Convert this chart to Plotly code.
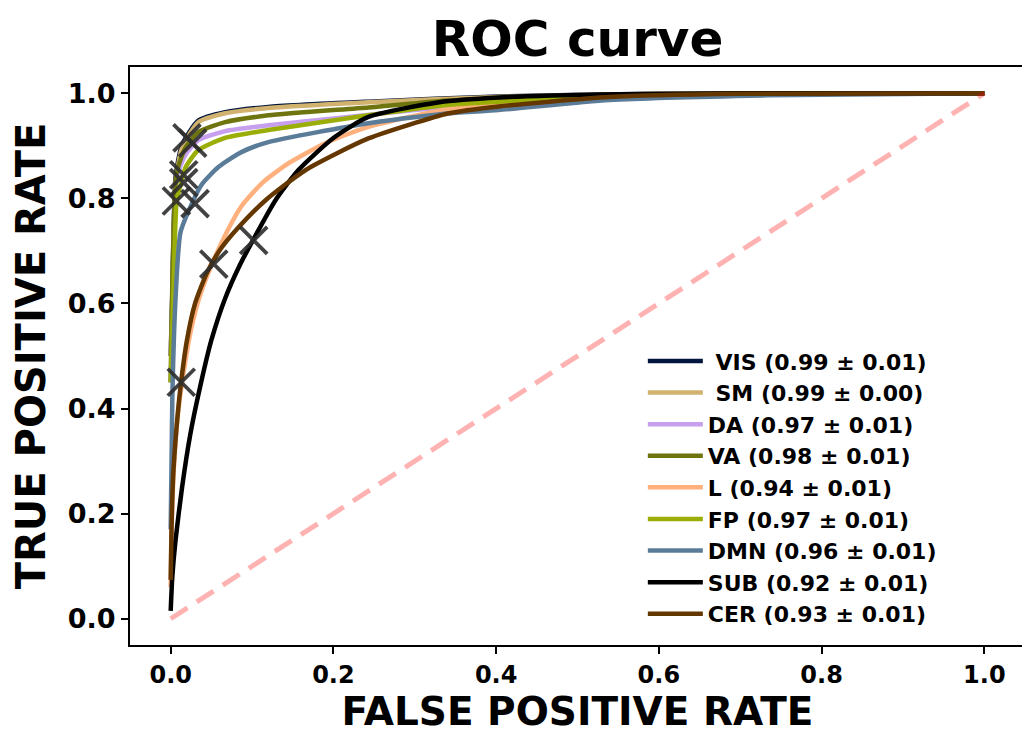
import plotly.graph_objects as go

# ---- data ----
names = ["\u00a0VIS (0.99 \u00b1 0.01)", "\u00a0SM (0.99 \u00b1 0.00)", "DA (0.97 \u00b1 0.01)",
         "VA (0.98 \u00b1 0.01)", "L (0.94 \u00b1 0.01)", "FP (0.97 \u00b1 0.01)",
         "DMN (0.96 \u00b1 0.01)", "SUB (0.92 \u00b1 0.01)", "CER (0.93 \u00b1 0.01)"]
colors = ["#01153e", "#d1b26f", "#c79fef", "#6e750e", "#ffb07c", "#9aae07",
          "#5b7c99", "#000000", "#653700"]

vis_fpr = [0.0, 0.002, 0.006, 0.014, 0.034, 0.067, 0.12, 0.243, 0.403, 0.6, 1.0]
vis_tpr = [0.5, 0.62, 0.84, 0.902, 0.948, 0.964, 0.974, 0.984, 0.994, 0.999, 1.0]
sm_fpr = [0.0, 0.002, 0.006, 0.014, 0.034, 0.067, 0.12, 0.243, 0.403, 0.6, 1.0]
sm_tpr = [0.5, 0.6, 0.83, 0.896, 0.945, 0.962, 0.972, 0.983, 0.993, 0.999, 1.0]
da_fpr = [0.0, 0.003, 0.0075, 0.018, 0.034, 0.067, 0.12, 0.2, 0.3, 0.4, 0.55, 0.7, 1.0]
da_tpr = [0.45, 0.65, 0.839, 0.883, 0.911, 0.928, 0.939, 0.952, 0.968, 0.982, 0.995, 0.999, 1.0]
va_fpr = [0.0, 0.003, 0.0075, 0.018, 0.034, 0.067, 0.12, 0.243, 0.33, 0.45, 0.6, 1.0]
va_tpr = [0.45, 0.7, 0.85, 0.896, 0.926, 0.945, 0.958, 0.973, 0.985, 0.992, 0.998, 1.0]
l_fpr = [0.0, 0.001, 0.004, 0.009, 0.016, 0.025, 0.036, 0.05, 0.067, 0.087, 0.113, 0.145, 0.19, 0.243, 0.342, 0.403, 0.55, 0.7, 1.0]
l_tpr = [0.06, 0.16, 0.29, 0.39, 0.47, 0.55, 0.615, 0.672, 0.73, 0.785, 0.83, 0.867, 0.905, 0.936, 0.97, 0.978, 0.993, 0.999, 1.0]
fp_fpr = [0.0, 0.003, 0.0075, 0.012, 0.018, 0.034, 0.067, 0.12, 0.243, 0.342, 0.403, 0.55, 0.7, 1.0]
fp_tpr = [0.45, 0.61, 0.797, 0.825, 0.858, 0.892, 0.915, 0.930, 0.958, 0.978, 0.984, 0.995, 0.999, 1.0]
dmn_fpr = [0.0, 0.002, 0.006, 0.012, 0.026, 0.038, 0.059, 0.087, 0.12, 0.243, 0.342, 0.403, 0.539, 0.735, 1.0]
dmn_tpr = [0.17, 0.42, 0.61, 0.735, 0.79, 0.826, 0.86, 0.888, 0.907, 0.943, 0.962, 0.968, 0.987, 0.996, 1.0]
sub_fpr = [0.0, 0.002, 0.006, 0.014, 0.024, 0.036, 0.05, 0.067, 0.084, 0.101, 0.129, 0.157, 0.2, 0.243, 0.33, 0.403, 0.55, 0.7, 1.0]
sub_tpr = [0.015, 0.08, 0.15, 0.25, 0.35, 0.44, 0.53, 0.61, 0.67, 0.72, 0.797, 0.854, 0.915, 0.955, 0.983, 0.992, 0.998, 1.0, 1.0]
cer_fpr = [0.0, 0.001, 0.003, 0.007, 0.012, 0.02, 0.03, 0.045, 0.062, 0.084, 0.117, 0.166, 0.243, 0.342, 0.403, 0.539, 0.7, 1.0]
cer_tpr = [0.074, 0.17, 0.27, 0.36, 0.44, 0.53, 0.6, 0.66, 0.705, 0.746, 0.797, 0.854, 0.914, 0.962, 0.975, 0.993, 0.999, 1.0]

fprs = [vis_fpr, sm_fpr, da_fpr, va_fpr, l_fpr, fp_fpr, dmn_fpr, sub_fpr, cer_fpr]
tprs = [vis_tpr, sm_tpr, da_tpr, va_tpr, l_tpr, fp_tpr, dmn_tpr, sub_tpr, cer_tpr]

# operating points (X markers)
op_fpr = [0.020, 0.027, 0.016, 0.016, 0.053, 0.007, 0.030, 0.102, 0.013]
op_tpr = [0.915, 0.905, 0.83, 0.845, 0.675, 0.795, 0.79, 0.72, 0.45]

chance = [0.0, 1.0]
x_ticks = [0.0, 0.2, 0.4, 0.6, 0.8, 1.0]
y_ticks = [0.0, 0.2, 0.4, 0.6, 0.8, 1.0]

FONT = "DejaVu Sans"

fig = go.Figure()
for n, c, fx, ty in zip(names, colors, fprs, tprs):
    fig.add_trace(go.Scatter(x=fx, y=ty, mode="lines", name=n,
                             line=dict(color=c, width=4.5, shape="spline", smoothing=0.6)))

fig.add_trace(go.Scatter(x=chance, y=chance, mode="lines", showlegend=False,
                         line=dict(color="rgba(255,0,0,0.3)", width=5, dash="20px,11px")))

fig.add_trace(go.Scatter(x=op_fpr, y=op_tpr, mode="markers", showlegend=False,
                         marker=dict(symbol="x-thin", size=27,
                                     line=dict(width=3.8, color="rgba(45,45,45,0.9)"))))

axis_common = dict(range=[-0.05, 1.05], showgrid=False, zeroline=False,
                   showline=True, linecolor="black", linewidth=2, mirror=True,
                   ticks="outside", ticklen=7, tickwidth=1.5, tickcolor="black",
                   tickformat=".1f", automargin=False)

fig.update_xaxes(**axis_common, tickvals=x_ticks,
                 tickfont=dict(family=FONT, size=24, color="black", weight="bold"),
                 title=dict(text="<b>FALSE POSITIVE RATE</b>", standoff=10,
                            font=dict(family=FONT, size=39, color="black")))
fig.update_yaxes(**axis_common, tickvals=y_ticks,
                 tickfont=dict(family=FONT, size=27, color="black", weight="bold"),
                 title=dict(text="<b>TRUE POSITIVE RATE</b>", standoff=12,
                            font=dict(family=FONT, size=40, color="black")))

fig.update_layout(
    width=1030, height=735,
    margin=dict(l=122, r=13, t=59, b=98, autoexpand=False),
    paper_bgcolor="white", plot_bgcolor="white",
    title=dict(text="<b>ROC curve</b>", x=0.553, xanchor="center", y=1 - 30 / 735,
               yanchor="middle", yref="container",
               font=dict(family=FONT, size=50, color="black")),
    legend=dict(x=0.573, xanchor="left", y=0.017, yanchor="bottom",
                bgcolor="rgba(0,0,0,0)", borderwidth=0, itemwidth=55,
                font=dict(family=FONT, size=22, color="black", weight="bold"),
                tracegroupgap=0),
    showlegend=True,
)

fig.write_html("out.html")
